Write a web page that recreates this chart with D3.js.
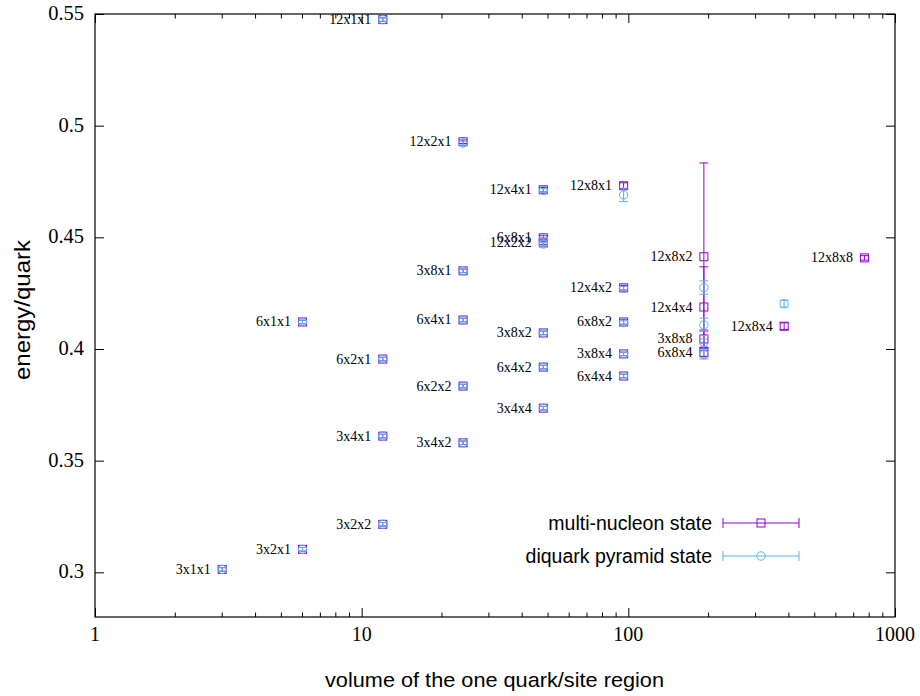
<!DOCTYPE html>
<html>
<head>
<meta charset="utf-8">
<script src="https://cdn.jsdelivr.net/npm/d3@7"></script>
<style>
  body { margin: 0; background: #fff; }
</style>
</head>
<body>
<div id="chart"></div>
<script>
// data
const labels  = ["3x1x1","3x2x1","6x1x1","3x2x2","3x4x1","6x2x1","12x1x1",
                 "3x4x2","6x2x2","6x4x1","3x8x1","12x2x1",
                 "3x4x4","6x4x2","3x8x2","12x2x2","6x8x1","12x4x1",
                 "6x4x4","3x8x4","6x8x2","12x4x2","12x8x1",
                 "12x8x2","12x4x4","3x8x8","6x8x4","12x8x4","12x8x8"];
const volumes = [3,6,6,12,12,12,12,
                 24,24,24,24,24,
                 48,48,48,48,48,48,
                 96,96,96,96,96,
                 192,192,192,192,384,768];
const multiE  = [0.3013,0.3103,0.4121,0.3215,0.3610,0.3955,0.5475,
                 0.3580,0.3834,0.4130,0.4350,0.4928,
                 0.3735,0.3919,0.4072,0.4475,0.4498,0.4713,
                 0.3879,0.3978,0.4121,0.4274,0.4731,
                 0.4413,0.4188,0.4045,0.3985,0.4102,0.4408];
const multiErr = [0.0008,0.0008,0.0008,0.0008,0.0008,0.0008,0.0008,
                  0.0008,0.0008,0.0008,0.0008,0.0008,
                  0.0008,0.0008,0.0008,0.0008,0.0010,0.0010,
                  0.0008,0.0008,0.0010,0.0010,0.0013,
                  0.0420,0.0180,0.0040,0.0020,0.0015,0.0010];
const diqE    = [0.3013,0.3103,0.4121,0.3215,0.3610,0.3955,0.5475,
                 0.3580,0.3834,0.4130,0.4350,0.4922,
                 0.3735,0.3919,0.4072,0.4470,0.4492,0.4710,
                 0.3879,0.3978,0.4118,0.4272,0.4690,
                 0.4275,0.4108,0.4030,0.3975,0.4203,null];
const diqErr  = [0.0008,0.0008,0.0008,0.0008,0.0008,0.0008,0.0008,
                 0.0008,0.0008,0.0008,0.0008,0.0008,
                 0.0008,0.0008,0.0008,0.0008,0.0008,0.0008,
                 0.0008,0.0008,0.0008,0.0008,0.0030,
                 0.0030,0.0030,0.0030,0.0020,0.0015,null];
const yTicks = [0.3,0.35,0.4,0.45,0.5,0.55];
const xTicks = [1,10,100,1000];

const violet = "#9400d3", cyan = "#56b4e9";

const W = 920, H = 696;
const margin = {top: 14, right: 25, bottom: 79, left: 95};
const width = W - margin.left - margin.right,
      height = H - margin.top - margin.bottom;

const svg = d3.select("#chart").append("svg")
    .attr("width", W).attr("height", H);
const g = svg.append("g")
    .attr("transform", `translate(${margin.left},${margin.top})`);

const x = d3.scaleLog().domain([1, 1000]).range([0, width]);
const y = d3.scaleLinear().domain([0.28, 0.55]).range([height, 0]);

const serif = "Liberation Serif, Times New Roman, serif";
const sans = "Liberation Sans, Arial, sans-serif";

// minor log ticks (inward, bottom + top)
const minor = [];
for (let d = 1; d < 1000; d *= 10)
  for (let k = 2; k <= 9; k++) minor.push(d * k);

g.append("g").selectAll("line").data(minor).join("line")
  .attr("x1", d => x(d)).attr("x2", d => x(d))
  .attr("y1", height).attr("y2", height - 4.5)
  .attr("stroke", "black");
g.append("g").selectAll("line").data(minor).join("line")
  .attr("x1", d => x(d)).attr("x2", d => x(d))
  .attr("y1", 0).attr("y2", 4.5)
  .attr("stroke", "black");

// major ticks pointing inward, on all four sides
g.append("g")
  .attr("transform", `translate(0,${height})`)
  .call(d3.axisBottom(x).tickValues(xTicks).tickFormat("").tickSize(-9))
  .call(a => a.select(".domain").remove());
g.append("g")
  .call(d3.axisTop(x).tickValues(xTicks).tickFormat("").tickSize(-9))
  .call(a => a.select(".domain").remove());
g.append("g")
  .call(d3.axisLeft(y).tickValues(yTicks).tickFormat("").tickSize(-9))
  .call(a => a.select(".domain").remove());
g.append("g")
  .attr("transform", `translate(${width},0)`)
  .call(d3.axisRight(y).tickValues(yTicks).tickFormat("").tickSize(-9))
  .call(a => a.select(".domain").remove());

// tick labels (serif, like the gnuplot output)
g.append("g").selectAll("text").data(xTicks).join("text")
  .attr("x", d => x(d)).attr("y", height + 24)
  .attr("text-anchor", "middle")
  .attr("font-family", serif).attr("font-size", 20)
  .text(d => d);
g.append("g").selectAll("text").data(yTicks).join("text")
  .attr("x", -11).attr("y", d => y(d) + 6)
  .attr("text-anchor", "end")
  .attr("font-family", serif).attr("font-size", 20.5)
  .text(d => d);

g.append("rect")
  .attr("width", width).attr("height", height)
  .attr("fill", "none").attr("stroke", "black").attr("stroke-width", 1.2);

// axis titles
svg.append("text")
  .attr("transform", "translate(30,310) rotate(-90)")
  .attr("text-anchor", "middle")
  .attr("font-family", sans).attr("font-size", 22)
  .attr("textLength", 140).attr("lengthAdjust", "spacingAndGlyphs")
  .text("energy/quark");
svg.append("text")
  .attr("x", 494.5).attr("y", 687)
  .attr("text-anchor", "middle")
  .attr("font-family", sans).attr("font-size", 21)
  .attr("textLength", 339).attr("lengthAdjust", "spacingAndGlyphs")
  .text("volume of the one quark/site region");

const cap = 4.5;

function errorBars(layer, rows, color) {
  layer.selectAll("line.bar").data(rows).join("line").attr("class", "bar")
    .attr("x1", d => x(d.v)).attr("x2", d => x(d.v))
    .attr("y1", d => y(d.e - d.err)).attr("y2", d => y(d.e + d.err))
    .attr("stroke", color);
  layer.selectAll("line.capT").data(rows).join("line").attr("class", "capT")
    .attr("x1", d => x(d.v) - cap).attr("x2", d => x(d.v) + cap)
    .attr("y1", d => y(d.e + d.err)).attr("y2", d => y(d.e + d.err))
    .attr("stroke", color);
  layer.selectAll("line.capB").data(rows).join("line").attr("class", "capB")
    .attr("x1", d => x(d.v) - cap).attr("x2", d => x(d.v) + cap)
    .attr("y1", d => y(d.e - d.err)).attr("y2", d => y(d.e - d.err))
    .attr("stroke", color);
}

const multiRows = volumes.map((v, i) => ({v, e: multiE[i], err: multiErr[i], label: labels[i]}));
const diqRows = volumes.map((v, i) => ({v, e: diqE[i], err: diqErr[i]})).filter(d => d.e != null);

// labels
g.append("g").selectAll("text").data(multiRows).join("text")
  .attr("x", d => x(d.v) - 11.5).attr("y", d => y(d.e) + 4.5)
  .attr("text-anchor", "end")
  .attr("font-family", serif).attr("font-size", 14)
  .text(d => d.label);

// multi-nucleon
const gm = g.append("g");
errorBars(gm, multiRows, violet);
gm.selectAll("rect").data(multiRows).join("rect")
  .attr("x", d => x(d.v) - 4).attr("y", d => y(d.e) - 4)
  .attr("width", 8).attr("height", 8)
  .attr("fill", "none").attr("stroke", violet);

// diquark pyramid
const gd = g.append("g");
errorBars(gd, diqRows, cyan);
gd.selectAll("circle").data(diqRows).join("circle")
  .attr("cx", d => x(d.v)).attr("cy", d => y(d.e)).attr("r", 4.2)
  .attr("fill", "none").attr("stroke", cyan);

// legend
const legend = [
  {name: "multi-nucleon state", color: violet, sym: "square", ly: 523},
  {name: "diquark pyramid state", color: cyan, sym: "circle", ly: 556}
];
const lg = svg.append("g");
legend.forEach(l => {
  lg.append("text").attr("x", 712).attr("y", l.ly + 7)
    .attr("text-anchor", "end")
    .attr("font-family", sans).attr("font-size", 19.5)
    .text(l.name);
  lg.append("line").attr("x1", 723).attr("x2", 799).attr("y1", l.ly).attr("y2", l.ly).attr("stroke", l.color);
  lg.append("line").attr("x1", 723).attr("x2", 723).attr("y1", l.ly - 5).attr("y2", l.ly + 5).attr("stroke", l.color);
  lg.append("line").attr("x1", 799).attr("x2", 799).attr("y1", l.ly - 5).attr("y2", l.ly + 5).attr("stroke", l.color);
  if (l.sym === "square")
    lg.append("rect").attr("x", 757).attr("y", l.ly - 4).attr("width", 8).attr("height", 8)
      .attr("fill", "none").attr("stroke", l.color);
  else
    lg.append("circle").attr("cx", 761).attr("cy", l.ly).attr("r", 4.2)
      .attr("fill", "none").attr("stroke", l.color);
});
</script>
</body>
</html>
